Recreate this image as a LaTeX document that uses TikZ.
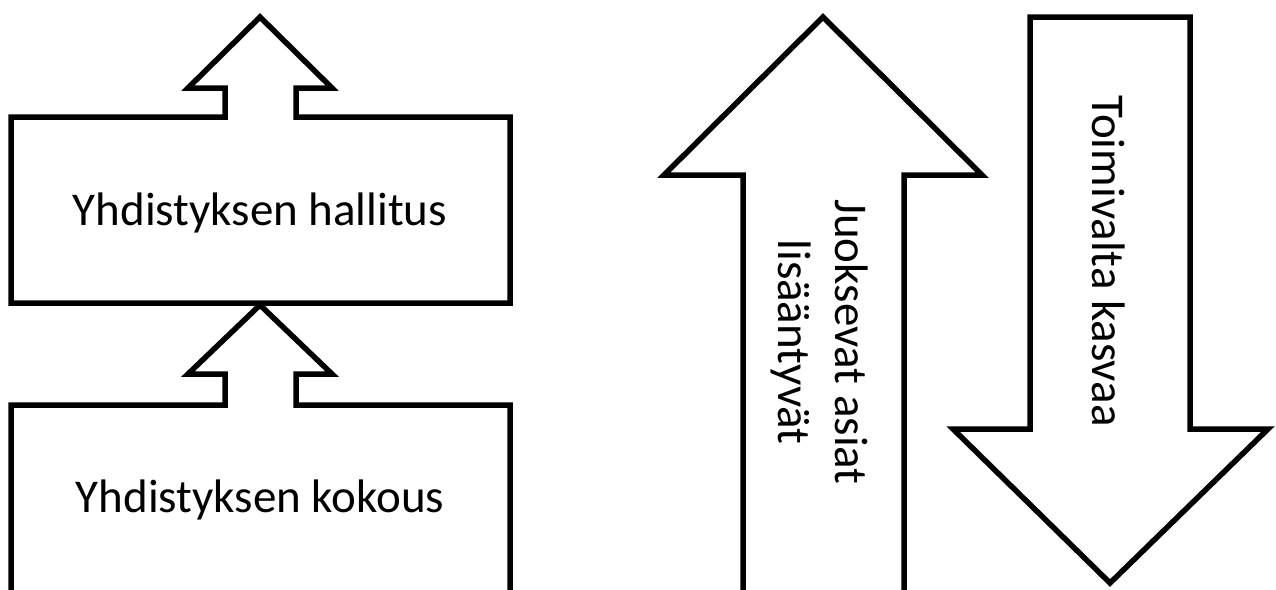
\documentclass[tikz,border=0pt]{standalone}
\usepackage{fontspec}
\setmainfont{Carlito}
\begin{document}
\begin{tikzpicture}[x=1pt,y=-1pt,
  shapeline/.style={draw=black,line width=5.5pt,fill=white,miter limit=20},
  lbl/.style={inner sep=0pt,font=\fontsize{47}{57}\selectfont},
  vlbl/.style={lbl,rotate=-90,align=center}]
\clip (0,0) rectangle (1276,589);
\fill[white] (0,0) rectangle (1276,589);
% Yhdistyksen kokous (bottom box with arrow)
\draw[shapeline] (11,620) -- (11,405) -- (225,405) -- (225,374) -- (188,374) -- (260,305)
  -- (332,374) -- (296,374) -- (296,405) -- (510,405) -- (510,620) -- cycle;
% Yhdistyksen hallitus (top box with arrow)
\draw[shapeline] (11,303) -- (11,117) -- (225,117) -- (225,88) -- (188,88) -- (260,17)
  -- (332,88) -- (296,88) -- (296,117) -- (510,117) -- (510,303) -- cycle;
% up arrow
\draw[shapeline] (743,620) -- (743,175) -- (664,175) -- (823,17) -- (982,175)
  -- (904,175) -- (904,620) -- cycle;
% down arrow
\draw[shapeline] (1030,17) -- (1190,17) -- (1190,429) -- (1268,429) -- (1110,583)
  -- (953,429) -- (1030,429) -- cycle;
\node[lbl,anchor=base] (hallitus) at (260,225) {Yhdistyksen hallitus};
\node[lbl,anchor=base] (kokous) at (260,512) {Yhdistyksen kokous};
\node[vlbl,anchor=center] (juoksevat) at (820,342) {Juoksevat asiat\\lisääntyvät};
\node[vlbl,anchor=base] (toimivalta) at (1092,261) {Toimivalta kasvaa};
\end{tikzpicture}
\end{document}
